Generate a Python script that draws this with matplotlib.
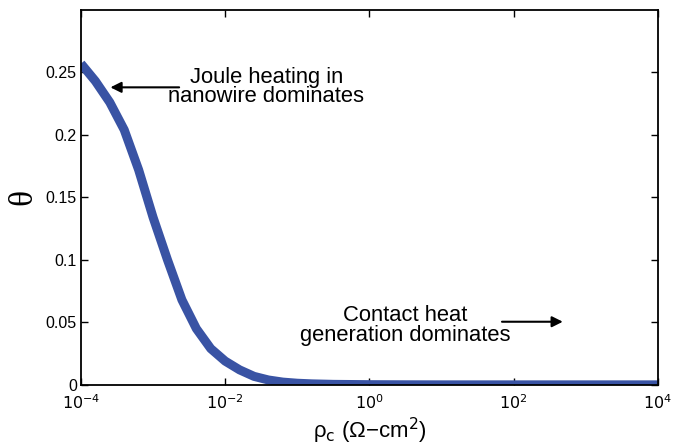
import numpy as np
from matplotlib import pyplot as plt

# theta vs contact resistivity (log10 of rho_c)
log_rho = [-4.0, -3.8, -3.6, -3.4, -3.2, -3.0, -2.8, -2.6, -2.4, -2.2, -2.0, -1.8,
           -1.6, -1.4, -1.2, -1.0, -0.8, -0.5, 0.0, 0.5, 1, 2, 3, 4]
theta = [0.257, 0.243, 0.226, 0.204, 0.172, 0.134, 0.100, 0.068, 0.045, 0.029, 0.019,
         0.012, 0.0068, 0.0039, 0.0022, 0.0013, 0.0008, 0.0004, 0.00015, 0.00005,
         0.0, 0.0, 0.0, 0.0]
rho = [10.0**v for v in log_rho]

xticks = [1e-4, 1e-2, 1e0, 1e2, 1e4]
yticks = [0, 0.05, 0.1, 0.15, 0.2, 0.25]

plt.rcParams['font.family'] = ['Liberation Sans', 'DejaVu Sans']

fig = plt.figure(figsize=(6.86, 4.47), dpi=100)
ax = fig.add_axes([0.118, 0.139, 0.841, 0.839])

ax.plot(rho, theta, color='#3953a4', lw=6.5, solid_capstyle='butt', solid_joinstyle='round')
ax.set_xscale('log')
ax.set_xlim(1e-4, 1e4)
ax.set_ylim(0, 0.3)
ax.set_xticks(xticks)
ax.set_xticklabels([r'$10^{%d}$' % int(np.log10(t)) for t in xticks])
ax.xaxis.set_minor_locator(plt.NullLocator())
ax.set_yticks(yticks)
ax.set_yticklabels(['0', '0.05', '0.1', '0.15', '0.2', '0.25'])
ax.tick_params(direction='in', top=True, right=True, length=5, width=1, labelsize=11.5)
ax.tick_params(axis='y', pad=3)
ax.tick_params(axis='x', pad=6)
for s in ax.spines.values():
    s.set_linewidth(1.3)

ax.set_ylabel('θ', fontsize=24, family='Liberation Serif', labelpad=5)
ax.set_xlabel(r'ρ$_\mathrm{c}$ (Ω−cm$^2$)', fontsize=16, labelpad=3)

# annotations
ax.annotate('', xy=(10**-3.63, 0.238), xytext=(10**-2.6, 0.238),
            arrowprops=dict(arrowstyle='-|>', color='black', lw=1.5, mutation_scale=16))
ax.text(10**-1.43, 0.2385, 'Joule heating in\nnanowire dominates', ha='center', va='center',
        fontsize=15.8, linespacing=0.88)
ax.annotate('', xy=(10**2.72, 0.0505), xytext=(10**1.8, 0.0505),
            arrowprops=dict(arrowstyle='-|>', color='black', lw=1.5, mutation_scale=16))
ax.text(10**0.5, 0.0475, 'Contact heat\ngeneration dominates', ha='center', va='center',
        fontsize=15.8, linespacing=0.88)

fig.savefig('out.png', dpi=100)
